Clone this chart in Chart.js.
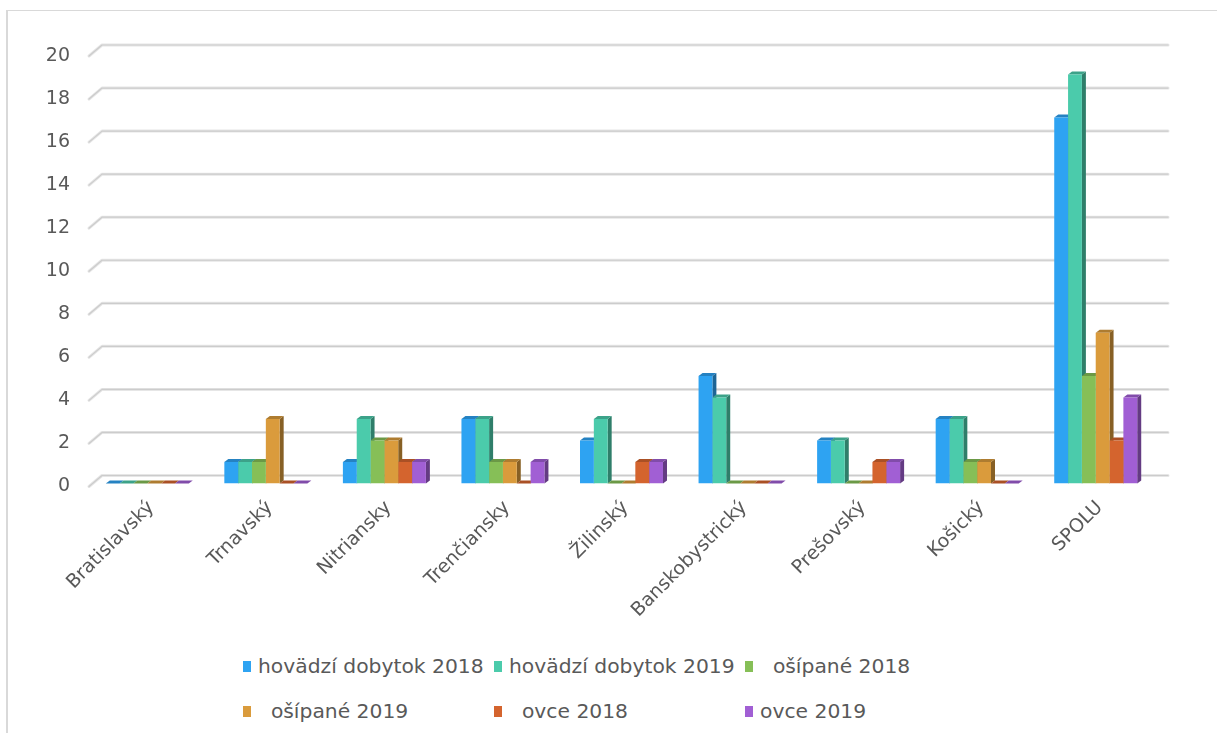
<!DOCTYPE html>
<html>
<head>
<meta charset="utf-8">
<script src="https://cdn.jsdelivr.net/npm/chart.js@4.4.1/dist/chart.umd.min.js"></script>
<style>
    html, body { margin: 0; padding: 0; background: #fff; }
    body { width: 1217px; height: 733px; position: relative; overflow: hidden; font-family: "DejaVu Sans", sans-serif; }
    #frame { position: absolute; left: 6px; top: 10px; width: 1300px; height: 800px;
             border-left: 2px solid #d9d9d9; border-top: 1px solid #d9d9d9; }
    #wrap { position: absolute; left: 0; top: 0; width: 1217px; height: 640px; }
    #legend { position: absolute; left: 243px; top: 654px; width: 760px; }
    .item { position: absolute; display: flex; align-items: center; white-space: pre;
            font-size: 20.3px; color: #595959; }
    .item .mk { width: 8px; height: 11px; margin-right: 7px; flex: none; }
</style>
</head>
<body>
<div id="frame"></div>
<div id="wrap"><canvas id="chart" width="1217" height="640"></canvas></div>
<div id="legend"></div>
<script>
/* ---------- data ---------- */
var categories  = ['Bratislavský', 'Trnavský', 'Nitriansky', 'Trenčiansky', 'Žilinský',
                   'Banskobystrický', 'Prešovský', 'Košický', 'SPOLU'];
var hovadzi2018 = [0, 1, 1, 3, 2, 5, 2, 3, 17];
var hovadzi2019 = [0, 1, 3, 3, 3, 4, 2, 3, 19];
var osipane2018 = [0, 1, 2, 1, 0, 0, 0, 1, 5];
var osipane2019 = [0, 3, 2, 1, 0, 0, 0, 1, 7];
var ovce2018    = [0, 0, 1, 0, 1, 0, 1, 0, 2];
var ovce2019    = [0, 0, 1, 1, 1, 0, 1, 0, 4];
var seriesNames = ['hovädzí dobytok 2018', 'hovädzí dobytok 2019', '  ošípané 2018',
                   '  ošípané 2019', '  ovce 2018', 'ovce 2019'];
var yMax  = 20;
var yStep = 2;

var COLORS = ['#2EA3F2', '#4BCBAB', '#86BF57', '#DA9B3C', '#D4642E', '#A15FD4'];

function shade(hex, f) {
    var n = parseInt(hex.slice(1), 16);
    var r = Math.round(((n >> 16) & 255) * f);
    var g = Math.round(((n >> 8) & 255) * f);
    var b = Math.round((n & 255) * f);
    return 'rgb(' + r + ',' + g + ',' + b + ')';
}

/* back-wall gridlines with a short diagonal, like the 3D floor */
var wallGrid = {
    id: 'wallGrid',
    beforeDatasetsDraw: function(chart) {
        var ctx = chart.ctx, area = chart.chartArea, ys = chart.scales.y;
        ctx.save();
        ys.ticks.forEach(function(t) {
            var y = ys.getPixelForValue(t.value);
            ctx.beginPath();
            ctx.moveTo(area.left + 1, y + 3);
            ctx.lineTo(area.left + 14, y - 8);
            ctx.lineTo(area.right + 13, y - 8);
            ctx.lineCap = 'round';
            ctx.lineJoin = 'round';
            ctx.strokeStyle = '#e6e6e6';
            ctx.lineWidth = 3;
            ctx.stroke();
            ctx.strokeStyle = '#cccccc';
            ctx.lineWidth = 1.2;
            ctx.stroke();
        });
        ctx.restore();
    }
};

/* side and top faces of every bar */
var depth = { dx: 4, dy: 3 };
var bars3d = {
    id: 'bars3d',
    beforeDatasetsDraw: function(chart) {
        var ctx = chart.ctx;
        ctx.save();
        chart.data.datasets.forEach(function(ds, i) {
            var meta = chart.getDatasetMeta(i);
            meta.data.forEach(function(bar) {
                var p = bar.getProps(['x', 'y', 'base', 'width'], true);
                var l = p.x - p.width / 2, r = p.x + p.width / 2;
                var top = Math.min(p.y, p.base), bot = p.base;
                // side
                ctx.fillStyle = shade(COLORS[i], 0.62);
                ctx.beginPath();
                ctx.moveTo(r, top);
                ctx.lineTo(r + depth.dx, top - depth.dy);
                ctx.lineTo(r + depth.dx, bot - depth.dy);
                ctx.lineTo(r, bot);
                ctx.closePath();
                ctx.fill();
                // top
                ctx.fillStyle = shade(COLORS[i], 0.8);
                ctx.beginPath();
                ctx.moveTo(l, top);
                ctx.lineTo(l + depth.dx, top - depth.dy);
                ctx.lineTo(r + depth.dx, top - depth.dy);
                ctx.lineTo(r, top);
                ctx.closePath();
                ctx.fill();
            });
        });
        ctx.restore();
    }
};

var seriesData = [hovadzi2018, hovadzi2019, osipane2018, osipane2019, ovce2018, ovce2019];

new Chart(document.getElementById('chart'), {
    type: 'bar',
    data: {
        labels: categories,
        datasets: seriesData.map(function(d, i) {
            return {
                label: seriesNames[i].trim(),
                data: d,
                backgroundColor: COLORS[i],
                borderWidth: 0
            };
        })
    },
    plugins: [wallGrid, bars3d],
    options: {
        responsive: false,
        animation: false,
        layout: { padding: { top: 53, left: 0, right: 62, bottom: 0 } },
        datasets: { bar: { categoryPercentage: 0.7, barPercentage: 1.0 } },
        plugins: {
            legend: { display: false },
            tooltip: { enabled: false }
        },
        scales: {
            x: {
                grid: { display: false },
                border: { display: false },
                ticks: {
                    autoSkip: false,
                    minRotation: 45,
                    maxRotation: 45,
                    padding: 5,
                    labelOffset: 4,
                    color: '#595959',
                    font: { family: 'DejaVu Sans', size: 19 }
                },
                afterFit: function(s) { s.height = 640 - 483.5; }
            },
            y: {
                min: 0,
                max: yMax,
                grid: { display: false },
                border: { display: false },
                ticks: {
                    stepSize: yStep,
                    padding: 10,
                    labelOffset: 3,
                    color: '#595959',
                    font: { family: 'DejaVu Sans', size: 19 }
                },
                afterFit: function(s) { s.width = 88; }
            }
        }
    }
});

/* legend: three columns, two rows */
var legend = document.getElementById('legend');
seriesNames.forEach(function(name, i) {
    var el = document.createElement('div');
    el.className = 'item';
    el.style.left = (i % 3) * 251 + 'px';
    el.style.top = Math.floor(i / 3) * 45 + 'px';
    var mk = document.createElement('span');
    mk.className = 'mk';
    mk.style.background = COLORS[i];
    el.appendChild(mk);
    el.appendChild(document.createTextNode(name));
    legend.appendChild(el);
});
</script>
</body>
</html>
